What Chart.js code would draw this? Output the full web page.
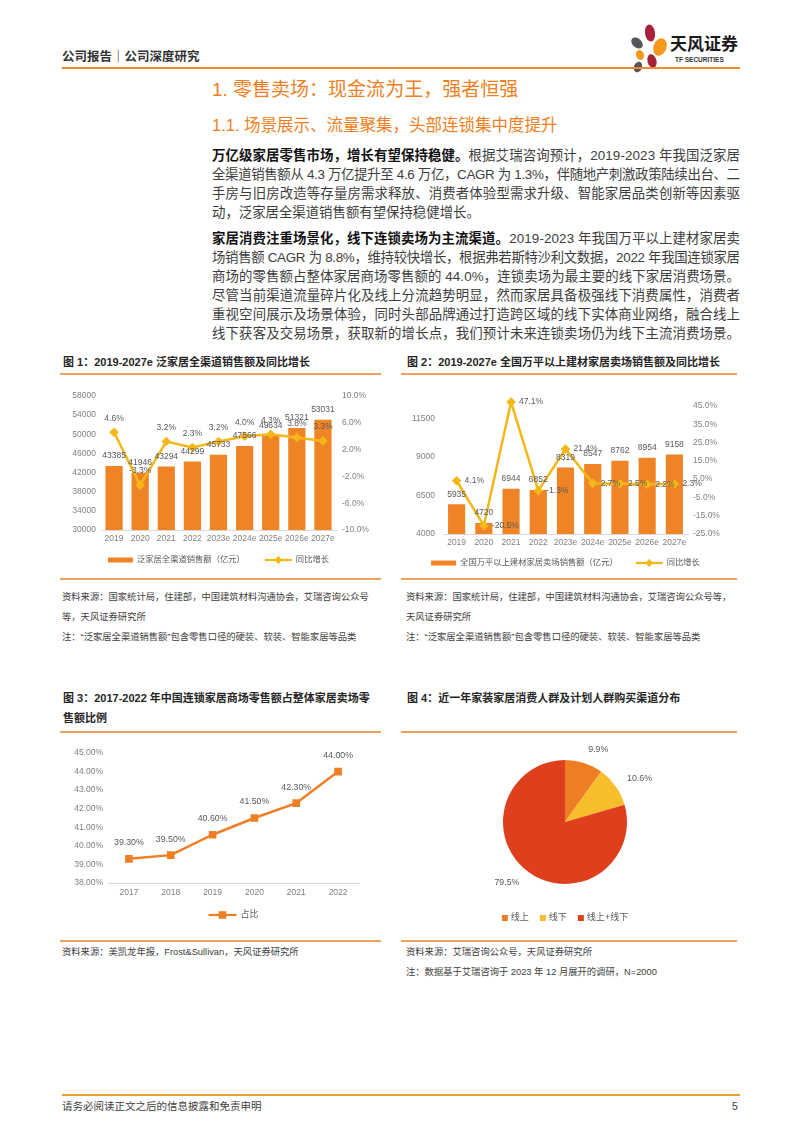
<!DOCTYPE html>
<html lang="zh-CN"><head><meta charset="utf-8">
<script src="https://cdn.jsdelivr.net/npm/chart.js@4.4.1/dist/chart.umd.min.js"></script>
<style>
html,body{margin:0;padding:0;background:#fff;}
body{width:802px;height:1133px;position:relative;overflow:hidden;font-family:"Liberation Sans","Noto Sans CJK SC",sans-serif;color:#404040;}
.a{position:absolute;white-space:nowrap;}
.hl{position:absolute;height:1.5px;background:#EF8A2C;}
.ln{position:absolute;left:212px;width:528px;height:19px;line-height:19px;font-size:13.4px;white-space:nowrap;text-align:left;color:#3d3d3d;}
.ln b{color:#111;font-weight:700;}
.ct{position:absolute;font-size:11px;font-weight:700;color:#262626;white-space:nowrap;line-height:14px;}
.src{position:absolute;font-size:9.3px;color:#404040;white-space:nowrap;line-height:12px;}
.ul{position:absolute;height:1.5px;background:#F0A060;}
canvas{position:absolute;}
</style></head><body>

<!-- header -->
<div class="a" style="left:62px;top:49px;font-size:12.5px;font-weight:700;color:#333;line-height:16px;">公司报告｜公司深度研究</div>
<svg class="a" style="left:624px;top:22px;" width="50" height="52" viewBox="0 0 50 52">
  <ellipse cx="26" cy="11" rx="5" ry="8.5" fill="#A8213A" transform="rotate(-8 26 11)"/>
  <ellipse cx="36" cy="25" rx="6.5" ry="9" fill="#F39A1E" transform="rotate(20 36 25)"/>
  <ellipse cx="13" cy="21" rx="4.5" ry="6.5" fill="#55565A" transform="rotate(-50 13 21)"/>
  <ellipse cx="16" cy="33" rx="4" ry="5" fill="#F39A1E" transform="rotate(-20 16 33)"/>
  <ellipse cx="28" cy="39" rx="4.5" ry="7" fill="#A8213A" transform="rotate(-15 28 39)"/>
  <ellipse cx="14" cy="45" rx="4" ry="5.5" fill="#55565A" transform="rotate(20 14 45)"/>
</svg>
<div class="a" style="left:670px;top:35px;font-size:17px;font-weight:700;color:#1a1a1a;line-height:20px;">天风证券</div>
<div class="a" style="left:675px;top:56px;font-size:6.5px;font-weight:700;color:#333;line-height:8px;">TF SECURITIES</div>
<div class="hl" style="left:62px;top:67px;width:678px;"></div>

<div class="a" style="left:212px;top:78px;font-size:19px;color:#EF7F22;line-height:24px;">1. 零售卖场：现金流为王，强者恒强</div>
<div class="a" style="left:212px;top:114px;font-size:16.5px;color:#EF7F22;line-height:22px;">1.1. 场景展示、流量聚集，头部连锁集中度提升</div>

<div class="ln j" style="top:145.5px;"><b>万亿级家居零售市场，增长有望保持稳健。</b>根据艾瑞咨询预计，2019-2023 年我国泛家居</div>
<div class="ln j" style="top:164.6px;">全渠道销售额从 4.3 万亿提升至 4.6 万亿，CAGR 为 1.3%，伴随地产刺激政策陆续出台、二</div>
<div class="ln j" style="top:183.7px;">手房与旧房改造等存量房需求释放、消费者体验型需求升级、智能家居品类创新等因素驱</div>
<div class="ln" style="top:202.8px;">动，泛家居全渠道销售额有望保持稳健增长。</div>

<div class="ln j" style="top:228.8px;"><b>家居消费注重场景化，线下连锁卖场为主流渠道。</b>2019-2023 年我国万平以上建材家居卖</div>
<div class="ln j" style="top:247.9px;">场销售额 CAGR 为 8.8%，维持较快增长，根据弗若斯特沙利文数据，2022 年我国连锁家居</div>
<div class="ln j" style="top:267px;">商场的零售额占整体家居商场零售额的 44.0%，连锁卖场为最主要的线下家居消费场景。</div>
<div class="ln j" style="top:286.1px;">尽管当前渠道流量碎片化及线上分流趋势明显，然而家居具备极强线下消费属性，消费者</div>
<div class="ln j" style="top:305.2px;">重视空间展示及场景体验，同时头部品牌通过打造跨区域的线下实体商业网络，融合线上</div>
<div class="ln j" style="top:324.3px;">线下获客及交易场景，获取新的增长点，我们预计未来连锁卖场仍为线下主流消费场景。</div>

<!-- figure 1 & 2 titles -->
<div class="ct" style="left:63px;top:355px;">图 1：2019-2027e 泛家居全渠道销售额及同比增长</div>
<div class="ct" style="left:407px;top:355px;">图 2：2019-2027e 全国万平以上建材家居卖场销售额及同比增长</div>
<div class="ul" style="left:60px;top:373px;width:321px;"></div>
<div class="ul" style="left:401px;top:373px;width:336px;"></div>

<canvas id="c1" width="319" height="195" style="left:62px;top:380px;"></canvas>
<canvas id="c2" width="336" height="195" style="left:401px;top:380px;"></canvas>

<div class="ul" style="left:60px;top:578px;width:321px;"></div>
<div class="ul" style="left:401px;top:578px;width:336px;"></div>
<div class="src" style="left:62px;top:591px;">资料来源：国家统计局，住建部，中国建筑材料沟通协会，艾瑞咨询公众号</div>
<div class="src" style="left:62px;top:611px;">等，天风证券研究所</div>
<div class="src" style="left:62px;top:631px;">注：“泛家居全渠道销售额”包含零售口径的硬装、软装、智能家居等品类</div>
<div class="src" style="left:406px;top:591px;">资料来源：国家统计局，住建部，中国建筑材料沟通协会，艾瑞咨询公众号等，</div>
<div class="src" style="left:406px;top:611px;">天风证券研究所</div>
<div class="src" style="left:406px;top:631px;">注：“泛家居全渠道销售额”包含零售口径的硬装、软装、智能家居等品类</div>

<!-- figure 3 & 4 titles -->
<div class="ct" style="left:63px;top:691px;">图 3：2017-2022 年中国连锁家居商场零售额占整体家居卖场零</div>
<div class="ct" style="left:63px;top:711px;">售额比例</div>
<div class="ct" style="left:407px;top:691px;">图 4：近一年家装家居消费人群及计划人群购买渠道分布</div>
<div class="ul" style="left:60px;top:731px;width:321px;"></div>
<div class="ul" style="left:401px;top:731px;width:336px;"></div>

<canvas id="c3" width="319" height="195" style="left:62px;top:740px;"></canvas>
<canvas id="c4" width="336" height="195" style="left:401px;top:740px;"></canvas>

<div class="ul" style="left:60px;top:940px;width:321px;"></div>
<div class="ul" style="left:401px;top:940px;width:336px;"></div>
<div class="src" style="left:62px;top:946px;">资料来源：美凯龙年报，Frost&amp;Sullivan，天风证券研究所</div>
<div class="src" style="left:406px;top:946px;">资料来源：艾瑞咨询公众号，天风证券研究所</div>
<div class="src" style="left:406px;top:966px;">注：数据基于艾瑞咨询于 2023 年 12 月展开的调研，N=2000</div>

<!-- footer -->
<div class="a" style="left:62px;top:1094px;width:678px;height:2px;background:#E9A02E;"></div>
<div class="a" style="left:62px;top:1099px;font-size:10.5px;color:#404040;line-height:14px;">请务必阅读正文之后的信息披露和免责申明</div>
<div class="a" style="left:732px;top:1099px;font-size:10.5px;color:#404040;line-height:14px;">5</div>

<script>
// ---------- data ----------
const years1 = ['2019','2020','2021','2022','2023e','2024e','2025e','2026e','2027e'];
const sales1 = [43385,41946,43294,44299,45733,47566,49634,51321,53031];
const growth1 = [4.6,-3.3,3.2,2.3,3.2,4.0,4.3,3.8,3.3];
const ticks1L = [30000,34000,38000,42000,46000,50000,54000,58000];
const ticks1R = [-10,-6,-2,2,6,10];

const years2 = ['2019','2020','2021','2022','2023e','2024e','2025e','2026e','2027e'];
const sales2 = [5935,4720,6944,6852,8319,8547,8762,8954,9158];
const growth2 = [4.1,-20.5,47.1,-1.3,21.4,2.7,2.5,2.2,2.3];
const ticks2L = [4000,6500,9000,11500];
const ticks2R = [-25,-15,-5,5,15,25,35,45];

const years3 = ['2017','2018','2019','2020','2021','2022'];
const share3 = [39.3,39.5,40.6,41.5,42.3,44.0];
const ticks3 = [38,39,40,41,42,43,44,45];

const channels4 = ['线上','线下','线上+线下'];
const pct4 = [9.9,10.6,79.5];

// ---------- justify body lines ----------
function fitLines(){
  document.querySelectorAll('.ln.j').forEach(el => {
    el.style.letterSpacing = '0px';
    const r = document.createRange(); r.selectNodeContents(el);
    const w = r.getBoundingClientRect().width;
    const n = el.textContent.length;
    el.style.letterSpacing = ((528 - w) / (n - 1)) + 'px';
  });
}
fitLines();
if (document.fonts && document.fonts.ready) document.fonts.ready.then(fitLines);

// ---------- style ----------
const FONT = '"Liberation Sans","Noto Sans CJK SC",sans-serif';
const BAR = '#EF8427', LINE = '#F5B617', ORANGE = '#EF7F24';
const PIE = ['#EE7E24','#F8BD2B','#DE401E'];
const TICK = '#808080', LBL = '#595959';
Chart.defaults.font.family = FONT;
Chart.defaults.color = TICK;
Chart.defaults.animation = false;

function setTicks(arr){ return axis => { axis.ticks = arr.map(v => ({value:v})); }; }
function fixW(w){ return a => { a.width = w; }; }
function fixH(h){ return a => { a.height = h; }; }

function labelsPlugin(specs){
  return {id:'vl', afterDatasetsDraw(chart){
    const ctx = chart.ctx;
    specs.forEach((s,i) => {
      if(!s) return;
      const meta = chart.getDatasetMeta(i);
      const data = chart.data.datasets[i].data;
      ctx.save();
      ctx.font = s.size + 'px ' + FONT;
      ctx.fillStyle = s.color || LBL;
      ctx.textAlign = s.align || 'center';
      ctx.textBaseline = 'middle';
      meta.data.forEach((el,j) => {
        ctx.fillText(s.fmt(data[j]), el.x + (s.dx||0), el.y + (s.dy||0));
      });
      ctx.restore();
    });
  }};
}

function drawMarker(ctx, kind, x, y, r, color){
  ctx.fillStyle = color;
  ctx.beginPath();
  if(kind === 'diamond'){ ctx.moveTo(x, y-r); ctx.lineTo(x+r, y); ctx.lineTo(x, y+r); ctx.lineTo(x-r, y); ctx.closePath(); }
  else { ctx.rect(x-r, y-r, 2*r, 2*r); }
  ctx.fill();
}

function legendPlugin(items, y, size, gap){
  return {id:'lg', afterDraw(chart){
    const ctx = chart.ctx;
    ctx.save();
    ctx.font = size + 'px ' + FONT;
    ctx.textBaseline = 'middle';
    ctx.textAlign = 'left';
    const ws = items.map(it => it.sw + 4 + ctx.measureText(it.text).width);
    const total = ws.reduce((a,b)=>a+b,0) + gap*(items.length-1);
    let x = (chart.chartArea.left + chart.chartArea.right)/2 - total/2;
    items.forEach((it,k) => {
      if(it.kind === 'bar'){ ctx.fillStyle = it.color; ctx.fillRect(x, y-2.5, it.sw, 5); }
      else if(it.kind === 'line'){
        ctx.strokeStyle = it.color; ctx.lineWidth = 2.2;
        ctx.beginPath(); ctx.moveTo(x, y); ctx.lineTo(x+it.sw, y); ctx.stroke();
        drawMarker(ctx, it.marker, x+it.sw/2, y, it.mr, it.color);
      } else { ctx.fillStyle = it.color; ctx.fillRect(x, y-3, 6, 6); }
      ctx.fillStyle = LBL;
      ctx.fillText(it.text, x + it.sw + 4, y);
      x += ws[k] + gap;
    });
    ctx.restore();
  }};
}

const tickFont = {size:8.5};
const noGrid = {display:false, drawTicks:false};

// ---------- chart 1 ----------
new Chart(document.getElementById('c1'), {
  data:{labels:years1, datasets:[
    {type:'bar', label:'泛家居全渠道销售额（亿元）', data:sales1, yAxisID:'yL', backgroundColor:BAR,
     categoryPercentage:1, barPercentage:0.66, order:2},
    {type:'line', label:'同比增长', data:growth1, yAxisID:'yR', borderColor:LINE, backgroundColor:LINE,
     borderWidth:2.5, pointStyle:'rectRot', pointRadius:4.8, pointBorderWidth:0, tension:0, order:1}
  ]},
  options:{responsive:false, devicePixelRatio:1,
    layout:{padding:{top:16, bottom:25, left:0, right:0}},
    plugins:{legend:{display:false}, tooltip:{enabled:false}},
    scales:{
      x:{grid:noGrid, border:{display:true,color:'#d9d9d9'}, ticks:{font:tickFont, color:TICK, padding:4, maxRotation:0, autoSkip:false}, afterFit:fixH(20)},
      yL:{position:'left', min:30000, max:58000, grid:noGrid, border:{display:false},
          afterBuildTicks:setTicks(ticks1L), ticks:{font:tickFont, color:TICK, padding:5, callback:v=>String(v)}, afterFit:fixW(39)},
      yR:{position:'right', min:-10, max:10, grid:noGrid, border:{display:false},
          afterBuildTicks:setTicks(ticks1R), ticks:{font:tickFont, color:TICK, padding:6, callback:v=>v.toFixed(1)+'%'}, afterFit:fixW(45)}
    }},
  plugins:[
    labelsPlugin([{fmt:v=>String(v), dy:-10, size:8.5}, {fmt:v=>v.toFixed(1)+'%', dy:-14, size:8.5}]),
    legendPlugin([{kind:'bar', sw:25, color:BAR, text:'泛家居全渠道销售额（亿元）'},
                  {kind:'line', sw:27, color:LINE, marker:'diamond', mr:4, text:'同比增长'}], 180, 8.3, 20)
  ]
});

// ---------- chart 2 ----------
new Chart(document.getElementById('c2'), {
  data:{labels:years2, datasets:[
    {type:'bar', label:'全国万平以上建材家居卖场销售额（亿元）', data:sales2, yAxisID:'yL', backgroundColor:BAR,
     categoryPercentage:1, barPercentage:0.63, order:2},
    {type:'line', label:'同比增长', data:growth2, yAxisID:'yR', borderColor:LINE, backgroundColor:LINE,
     borderWidth:2.5, pointStyle:'rectRot', pointRadius:4.8, pointBorderWidth:0, tension:0, order:1}
  ]},
  options:{responsive:false, devicePixelRatio:1,
    layout:{padding:{top:9, bottom:21, left:0, right:0}},
    plugins:{legend:{display:false}, tooltip:{enabled:false}},
    scales:{
      x:{grid:noGrid, border:{display:true,color:'#d9d9d9'}, ticks:{font:tickFont, color:TICK, padding:4, maxRotation:0, autoSkip:false}, afterFit:fixH(20)},
      yL:{position:'left', min:4000, max:13150, grid:noGrid, border:{display:false},
          afterBuildTicks:setTicks(ticks2L), ticks:{font:tickFont, color:TICK, padding:8, callback:v=>String(v)}, afterFit:fixW(42)},
      yR:{position:'right', min:-25, max:52, grid:noGrid, border:{display:false},
          afterBuildTicks:setTicks(ticks2R), ticks:{font:tickFont, color:TICK, padding:5, callback:v=>v.toFixed(1)+'%'}, afterFit:fixW(49)}
    }},
  plugins:[
    labelsPlugin([{fmt:v=>String(v), dy:-10, size:8.5}, {fmt:v=>v.toFixed(1)+'%', dx:8, dy:0, align:'left', size:8.5}]),
    legendPlugin([{kind:'bar', sw:25, color:BAR, text:'全国万平以上建材家居卖场销售额（亿元）'},
                  {kind:'line', sw:27, color:LINE, marker:'diamond', mr:4, text:'同比增长'}], 183, 8.3, 18)
  ]
});

// ---------- chart 3 ----------
new Chart(document.getElementById('c3'), {
  type:'line',
  data:{labels:years3, datasets:[
    {label:'占比', data:share3, borderColor:ORANGE, backgroundColor:ORANGE, borderWidth:2.5,
     pointStyle:'rect', pointRadius:5.4, pointBorderWidth:0, tension:0}
  ]},
  options:{responsive:false, devicePixelRatio:1,
    layout:{padding:{top:13, bottom:32, left:0, right:22}},
    plugins:{legend:{display:false}, tooltip:{enabled:false}},
    scales:{
      x:{offset:true, grid:noGrid, border:{display:true,color:'#d9d9d9'}, ticks:{font:tickFont, color:TICK, padding:5, maxRotation:0, autoSkip:false}, afterFit:fixH(20)},
      y:{min:38, max:45, grid:noGrid, border:{display:false},
         afterBuildTicks:setTicks(ticks3), ticks:{font:tickFont, color:TICK, padding:5, callback:v=>v.toFixed(2)+'%'}, afterFit:fixW(46)}
    }},
  plugins:[
    labelsPlugin([{fmt:v=>v.toFixed(2)+'%', dy:-16, size:8.8}]),
    legendPlugin([{kind:'line', sw:28, color:ORANGE, marker:'rect', mr:3.8, text:'占比'}], 175, 9, 0)
  ]
});

// ---------- chart 4 ----------
const pieLabels = {id:'pl', afterDatasetsDraw(chart){
  const ctx = chart.ctx, meta = chart.getDatasetMeta(0);
  ctx.save(); ctx.font = '8.8px ' + FONT; ctx.fillStyle = LBL; ctx.textBaseline = 'middle';
  meta.data.forEach((arc,j) => {
    const mid = (arc.startAngle + arc.endAngle)/2, r = arc.outerRadius + 14;
    const x = arc.x + Math.cos(mid)*r, y = arc.y + Math.sin(mid)*r;
    ctx.textAlign = Math.cos(mid) >= 0 ? 'left' : 'right';
    ctx.fillText(chart.data.datasets[0].data[j].toFixed(1)+'%', x, y);
  });
  ctx.restore();
}};
const pieLegend = {id:'pleg', afterDraw(chart){
  const ctx = chart.ctx; ctx.save(); ctx.font = '9px ' + FONT; ctx.textBaseline = 'middle';
  const y = 178, gap = 11;
  const ws = chart.data.labels.map(t => 9 + ctx.measureText(t).width);
  const total = ws.reduce((a,b)=>a+b,0) + gap*(ws.length-1);
  let x = (chart.chartArea.left + chart.chartArea.right)/2 - total/2;
  chart.data.labels.forEach((t,k) => {
    ctx.fillStyle = PIE[k]; ctx.fillRect(x, y-3, 6, 6);
    ctx.fillStyle = LBL; ctx.textAlign = 'left'; ctx.fillText(t, x+9, y);
    x += ws[k] + gap;
  });
  ctx.restore();
}};
new Chart(document.getElementById('c4'), {
  type:'pie',
  data:{labels:channels4, datasets:[{data:pct4, backgroundColor:PIE, borderWidth:0}]},
  options:{responsive:false, devicePixelRatio:1,
    layout:{padding:{top:20, bottom:51, left:102, right:110}},
    plugins:{legend:{display:false}, tooltip:{enabled:false}}},
  plugins:[pieLabels, pieLegend]
});
</script>
</body></html>
